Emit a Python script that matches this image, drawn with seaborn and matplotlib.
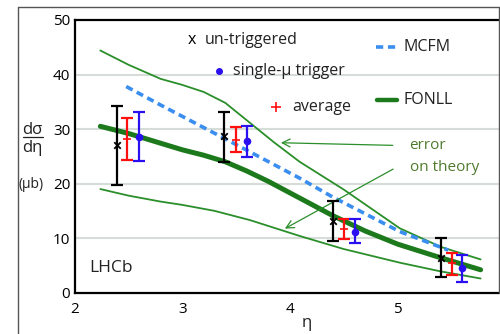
import matplotlib
matplotlib.use("Agg")
import matplotlib.pyplot as plt
from matplotlib.lines import Line2D
import seaborn as sns
import pandas as pd

# ---- data ----
eta_untrig = [2.39, 3.39, 4.40, 5.40]
val_untrig = [27.1, 28.7, 13.2, 6.4]
lo_untrig = [19.7, 24.0, 9.5, 2.8]
hi_untrig = [34.3, 33.2, 16.8, 10.1]

eta_avg = [2.49, 3.50, 4.50, 5.50]
val_avg = [28.2, 28.0, 11.6, 5.4]
lo_avg = [24.3, 25.8, 9.8, 3.2]
hi_avg = [32.0, 30.3, 13.6, 7.2]

eta_single = [2.60, 3.60, 4.60, 5.60]
val_single = [28.6, 27.8, 11.2, 4.6]
lo_single = [24.2, 24.9, 9.1, 2.0]
hi_single = [33.1, 30.5, 13.5, 7.0]

fonll_eta = [2.24, 2.5, 2.8, 3.0, 3.2, 3.4, 3.6, 3.8, 4.0, 4.2, 4.4, 4.7, 5.0, 5.4, 5.77]
fonll_val = [30.5, 29.2, 27.4, 26.2, 25.2, 24.0, 22.3, 20.4, 18.3, 16.2, 14.1, 11.3, 8.9, 6.4, 4.2]

upper_eta = [2.24, 2.5, 2.8, 3.0, 3.2, 3.4, 3.6, 3.85, 4.09, 4.5, 5.02, 5.4, 5.77]
upper_val = [44.4, 41.8, 39.2, 38.1, 36.8, 34.8, 31.6, 27.6, 24.0, 18.9, 11.8, 8.4, 6.1]

lower_eta = [2.24, 2.5, 2.8, 3.0, 3.3, 3.63, 4.09, 4.5, 5.02, 5.4, 5.77]
lower_val = [19.0, 17.8, 16.7, 16.1, 15.0, 13.3, 10.4, 8.0, 5.5, 3.9, 2.6]

mcfm_eta = [2.48, 2.8, 3.39, 4.09, 4.4, 5.02, 5.47]
mcfm_val = [37.8, 34.4, 28.3, 21.0, 17.5, 11.2, 7.8]

yticks = [0, 10, 20, 30, 40, 50]
xticks = [2, 3, 4, 5]

# ---- style ----
sns.set_style("white")
plt.rcParams["font.family"] = ["Open Sans", "DejaVu Sans"]

GREEN_THICK = "#1c7a1c"
GREEN_THIN = "#2a8f2a"
TEXT_GREEN = "#4f7a2e"
MCFM_BLUE = "#3a8ef0"
SINGLE_BLUE = "#2a10f0"
RED = "#ff1010"
TXT = "#222222"

fig = plt.figure(figsize=(5.0, 3.34), dpi=100)
ax = fig.add_axes([0.149, 0.1237, 0.851, 0.8165])

ax.set_xlim(2, 5.95)
ax.set_ylim(0, 50)
ax.set_yticks(yticks)
ax.set_xticks(xticks)
for y in yticks[1:-1]:
    ax.axhline(y, color="#d6ddd9", lw=1.5, zorder=0)

# theory curves
sns.lineplot(x=upper_eta, y=upper_val, ax=ax, color=GREEN_THIN, lw=1.3, sort=False, zorder=2)
sns.lineplot(x=lower_eta, y=lower_val, ax=ax, color=GREEN_THIN, lw=1.3, sort=False, zorder=2)
sns.lineplot(x=fonll_eta, y=fonll_val, ax=ax, color=GREEN_THICK, lw=3.6, sort=False, zorder=3)
sns.lineplot(x=mcfm_eta, y=mcfm_val, ax=ax, color=MCFM_BLUE, lw=2.6, sort=False, zorder=3,
             linestyle=(0, (2.0, 1.3)))

# data error bars
def draw(eta, val, lo, hi, color, marker, ms, mew):
    yerr = [[v - l for v, l in zip(val, lo)], [h - v for v, h in zip(val, hi)]]
    ax.errorbar(eta, val, yerr=yerr, fmt="none", ecolor=color, elinewidth=1.6,
                capsize=4, capthick=1.6, zorder=5)
    df = pd.DataFrame({"eta": eta, "val": val})
    sns.scatterplot(data=df, x="eta", y="val", ax=ax, color=color, marker=marker,
                    s=ms, linewidth=mew, edgecolor=color, zorder=6)

draw(eta_untrig, val_untrig, lo_untrig, hi_untrig, "black", "x", 22, 1.3)
draw(eta_avg, val_avg, lo_avg, hi_avg, RED, "+", 40, 1.2)
draw(eta_single, val_single, lo_single, hi_single, SINGLE_BLUE, "o", 30, 0)

# spines & ticks
for s in ["left", "bottom", "top"]:
    ax.spines[s].set_color("black")
    ax.spines[s].set_linewidth(1.6)
ax.spines["right"].set_visible(False)
ax.tick_params(axis="both", direction="in", length=4, width=1.2, labelsize=11,
               colors="black")
ax.tick_params(axis="x", pad=7)
ax.tick_params(axis="y", pad=3)
ax.set_xlabel("")
ax.set_ylabel("")

# in-plot legend
fs = 11.5
ax.text(3.09, 46.3, "x", color="black", fontsize=fs, ha="center", va="center")
ax.text(3.21, 46.3, "un-triggered", color=TXT, fontsize=fs, ha="left", va="center")
ax.plot([3.34], [40.6], marker="o", color=SINGLE_BLUE, ms=4)
ax.text(3.47, 40.6, "single-\u03bc trigger", color=TXT, fontsize=fs, ha="left", va="center")
ax.plot([3.87], [34.0], marker="+", color=RED, ms=7, mew=1.2)
ax.text(4.02, 34.0, "average", color=TXT, fontsize=fs, ha="left", va="center")
ax.plot([4.80, 4.99], [45.0, 45.0], color=MCFM_BLUE, lw=2.6, linestyle=(0, (2.0, 1.3)))
ax.text(5.05, 45.0, "MCFM", color=TXT, fontsize=fs, ha="left", va="center")
ax.plot([4.81, 4.99], [35.3, 35.3], color=GREEN_THICK, lw=3.2)
ax.text(5.05, 35.3, "FONLL", color=TXT, fontsize=fs, ha="left", va="center")

# error on theory annotation
ax.text(5.11, 26.9, "error", color=TEXT_GREEN, fontsize=11, ha="left", va="center")
ax.text(5.11, 23.0, "on theory", color=TEXT_GREEN, fontsize=11, ha="left", va="center")
ax.annotate("", xy=(3.89, 27.5), xytext=(4.98, 27.0),
            arrowprops=dict(arrowstyle="->", color=GREEN_THIN, lw=0.9, mutation_scale=14))
ax.annotate("", xy=(3.93, 11.5), xytext=(4.98, 22.9),
            arrowprops=dict(arrowstyle="->", color=GREEN_THIN, lw=0.9, mutation_scale=14))

ax.text(2.14, 4.5, "LHCb", color=TXT, fontsize=12.5, ha="left", va="center")

# axis labels (fraction drawn as two texts and a bar)
fig.text(0.065, 0.612, "d\u03c3", fontsize=12, ha="center", va="center", color=TXT)
fig.add_artist(Line2D([0.045, 0.086], [0.591, 0.591], color=TXT, lw=0.9))
fig.text(0.065, 0.556, "d\u03b7", fontsize=12, ha="center", va="center", color=TXT)
fig.text(0.062, 0.449, "(\u03bcb)", fontsize=10, ha="center", va="center", color=TXT)
fig.text(0.614, 0.033, "\u03b7", fontsize=12, ha="center", va="center", color=TXT)

# outer frame
fig.add_artist(Line2D([0.036, 0.036], [0.0, 0.979], color="#555555", lw=1.0))
fig.add_artist(Line2D([0.036, 0.998], [0.979, 0.979], color="#555555", lw=1.0))
fig.add_artist(Line2D([0.998, 0.998], [0.1237, 0.979], color="#555555", lw=1.0))

fig.savefig("out.png", dpi=100)
